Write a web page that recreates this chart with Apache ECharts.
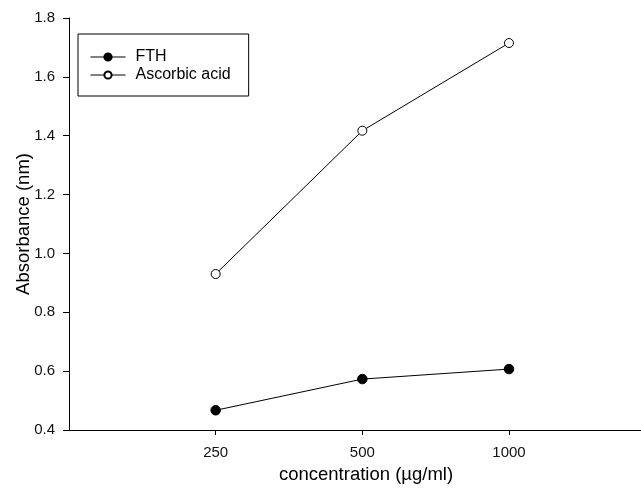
<!DOCTYPE html>
<html>
<head>
<meta charset="utf-8">
<script src="https://cdn.jsdelivr.net/npm/echarts@6/dist/echarts.min.js"></script>
<style>html,body{margin:0;padding:0;background:#fff}#c{width:641px;height:491px}</style>
</head>
<body>
<div id="c"></div>
<script>
var categories = ['250', '500', '1000'];
var fthValues = [0.467, 0.573, 0.607];
var ascorbicValues = [0.930, 1.417, 1.715];

var positions = categories.map(function (c, i) { return i + 1; });
function pairs(vals) { return vals.map(function (v, i) { return [positions[i], v]; }); }

var chart = echarts.init(document.getElementById('c'), null, { renderer: 'canvas' });
var font = 'Liberation Sans, Arial, sans-serif';
chart.setOption({
  animation: false,
  backgroundColor: '#fff',
  grid: { left: 69, right: 0, top: 18, bottom: 61, containLabel: false, outerBoundsMode: 'none' },
  legend: {
    orient: 'vertical',
    left: 78, top: 34,
    padding: [15, 18, 13, 12],
    itemGap: 2,
    itemWidth: 35, itemHeight: 9,
    borderColor: '#000', borderWidth: 1,
    lineStyle: { width: 1 },
    textStyle: { fontFamily: font, fontSize: 16, color: '#000', padding: [0, 0, 0, 5] },
    data: ['FTH', 'Ascorbic acid']
  },
  xAxis: {
    type: 'value', min: 0, max: 3.9,
    name: 'concentration (\u00b5g/ml)', nameLocation: 'middle', nameGap: 35,
    nameMoveOverlap: false,
    nameTextStyle: { fontFamily: font, fontSize: 18.5, color: '#000', padding: [0, 0, 0, 22] },
    axisLine: { show: true, lineStyle: { color: '#000', width: 1 } },
    axisTick: { show: true, length: 5, customValues: positions, lineStyle: { color: '#000' } },
    axisLabel: {
      customValues: positions, margin: 15,
      fontFamily: font, fontSize: 15, color: '#111',
      formatter: function (v) { return categories[Math.round(v) - 1] || ''; }
    },
    splitLine: { show: false }
  },
  yAxis: {
    type: 'value', min: 0.4, max: 1.8, interval: 0.2,
    name: 'Absorbance (nm)', nameLocation: 'middle', nameGap: 36,
    nameMoveOverlap: false,
    nameTextStyle: { fontFamily: font, fontSize: 18.5, color: '#000' },
    axisLine: { show: true, lineStyle: { color: '#000', width: 1 } },
    axisTick: { show: true, length: 6, lineStyle: { color: '#000' } },
    axisLabel: {
      margin: 14, fontFamily: font, fontSize: 15, color: '#111',
      formatter: function (v) { return v.toFixed(1); }
    },
    splitLine: { show: false }
  },
  series: [
    {
      name: 'FTH', type: 'line', data: pairs(fthValues),
      symbol: 'circle', symbolSize: 9.5,
      lineStyle: { color: '#000', width: 1 },
      itemStyle: { color: '#000', borderColor: '#000', borderWidth: 1 }
    },
    {
      name: 'Ascorbic acid', type: 'line', data: pairs(ascorbicValues),
      symbol: 'circle', symbolSize: 9,
      lineStyle: { color: '#000', width: 1 },
      itemStyle: { color: '#fff', borderColor: '#000', borderWidth: 1 }
    }
  ]
});
</script>
</body>
</html>
